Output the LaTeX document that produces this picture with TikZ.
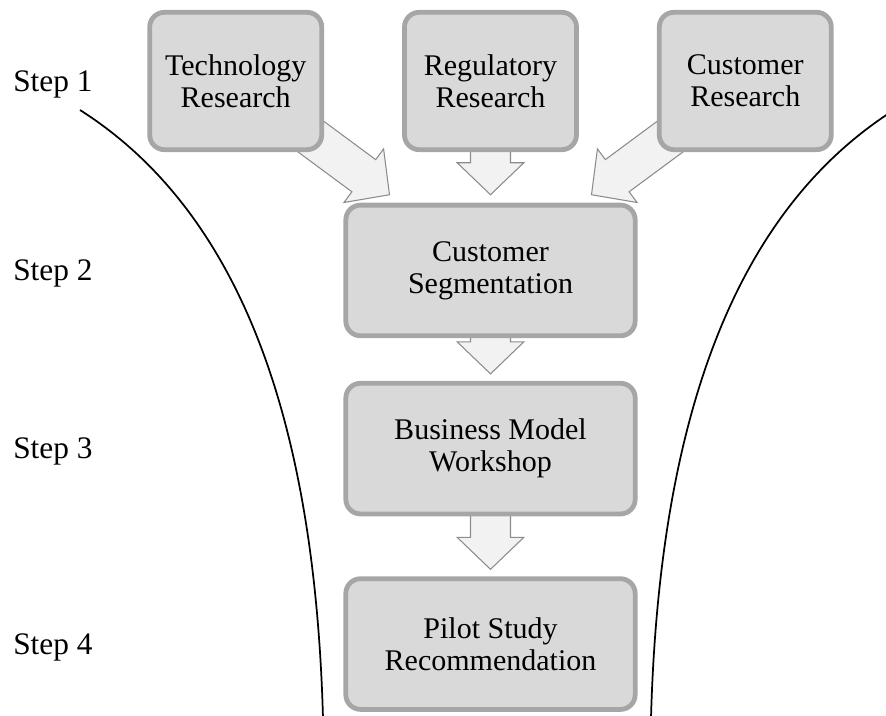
\documentclass[tikz,border=0pt]{standalone}
\usepackage{fontspec}
\setmainfont{Liberation Serif}
\usetikzlibrary{positioning}
\usetikzlibrary{calc}
\usetikzlibrary{backgrounds}

\definecolor{boxfill}{HTML}{D9D9D9}
\definecolor{boxline}{HTML}{A6A6A6}
\definecolor{arrfill}{HTML}{F2F2F2}
\definecolor{arrline}{HTML}{8C8C8C}

\tikzset{
  stagebox/.style={draw=boxline, line width=3.6pt, fill=boxfill, rounded corners=11pt,
    align=center, inner sep=0pt, font=\fontsize{22.5}{24}\selectfont},
  topbox/.style={stagebox, minimum width=129pt, minimum height=103pt},
  midbox/.style={stagebox, minimum width=217pt, minimum height=98pt},
  steplabel/.style={anchor=base west, inner sep=0pt, font=\fontsize{23.5}{24}\selectfont},
  fatarrow/.style={draw=arrline, line width=0.8pt, fill=arrfill, line join=miter},
  funnel/.style={line width=1.3pt, black}
}

% block arrow from #1 (hidden under the box) to #2
\newcommand{\blockarrow}[2]{%
  \coordinate (tip) at (#2);
  \coordinate (base) at ($(tip)!24pt!(#1)$);
  \draw[fatarrow] ($(#1)!15pt!-90:(tip)$) -- ($(base)!15pt!-90:(tip)$)
    -- ($(base)!25pt!-90:(tip)$) -- (tip) -- ($(base)!25pt!90:(tip)$)
    -- ($(base)!15pt!90:(tip)$) -- ($(#1)!15pt!90:(tip)$) -- cycle;}

\begin{document}
\begin{tikzpicture}[x=0.75pt, y=-0.75pt]
\useasboundingbox (0,0) rectangle (886,716);

% funnel
\begin{scope}
\clip (0,0) rectangle (886,716);
\draw[funnel] (80,110) .. controls (245,215) and (315,430) .. (323,718);
\draw[funnel] (894,110) .. controls (729,215) and (659,430) .. (651,718);
\end{scope}

% boxes
\node[topbox] (reg) at (490.5,81) {Regulatory\\Research};
\node[topbox, left=58.5pt of reg] (tech) {Technology\\Research};
\node[topbox, right=58.5pt of reg] (cust) {Customer\\Research};
\node[midbox, below=38pt of reg] (cs) {Customer\\Segmentation};
\node[midbox, below=32pt of cs] (bmw) {Business Model\\Workshop};
\node[midbox, below=45pt of bmw] (pilot) {Pilot Study\\Recommendation};

% steps
\node[steplabel] (step1) at (13,91.5) {Step 1};
\node[steplabel] (step2) at (13,281) {Step 2};
\node[steplabel] (step3) at (13,459) {Step 3};
\node[steplabel] (step4) at (13,654) {Step 4};

% arrows behind the boxes
\begin{pgfonlayer}{background}
\blockarrow{tech.center}{$(cs.north)+(-101,-8)$}
\blockarrow{reg.center}{$(cs.north)+(0,-8)$}
\blockarrow{cust.center}{$(cs.north)+(101,-8)$}
\blockarrow{cs.center}{$(bmw.north)+(0,-7)$}
\blockarrow{bmw.center}{$(pilot.north)+(0,-7)$}
\end{pgfonlayer}
\end{tikzpicture}
\end{document}
